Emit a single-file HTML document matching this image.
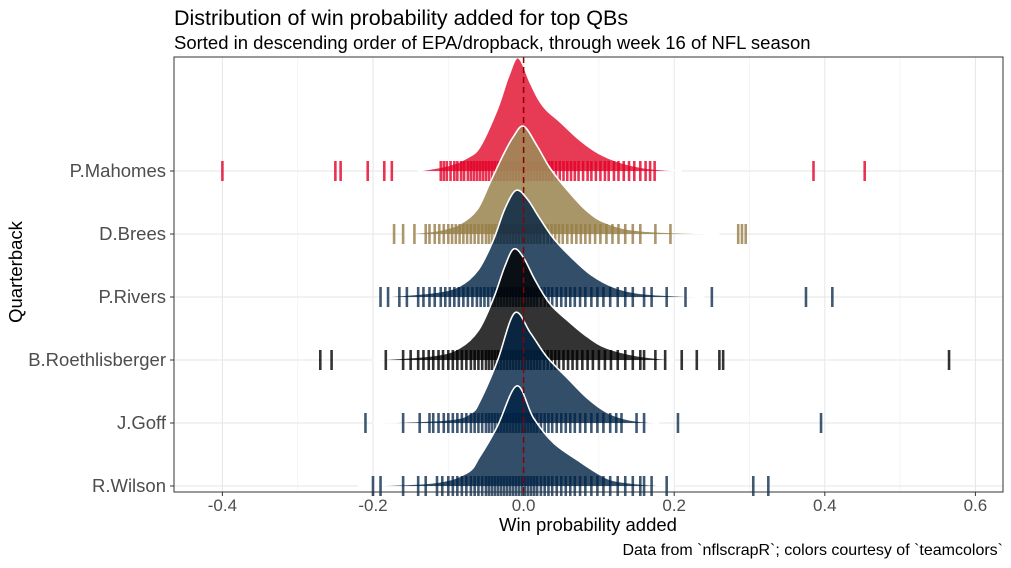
<!DOCTYPE html>
<html><head><meta charset="utf-8"><style>
body{margin:0;background:#fff;}
svg text{font-family:"Liberation Sans",sans-serif;}
</style></head><body>
<svg id="chart" width="1011" height="563" xmlns="http://www.w3.org/2000/svg">
<text x="174" y="25" font-size="21.5" fill="#000">Distribution of win probability added for top QBs</text>
<text x="174" y="49" font-size="18.5" fill="#000">Sorted in descending order of EPA/dropback, through week 16 of NFL season</text>
<rect x="174" y="57" width="829" height="435" fill="#fff"/>
<g id="grid"></g>
<g id="ridges"></g>
<line id="zero" stroke="#8B0000" stroke-width="1.5" stroke-dasharray="6,4"/>
<rect x="174" y="57" width="829" height="435" fill="none" stroke="#333" stroke-width="1"/>
<g id="axes"></g>
<text x="588" y="531" font-size="18.5" text-anchor="middle" fill="#000">Win probability added</text>
<text transform="translate(22,272) rotate(-90)" font-size="18.5" text-anchor="middle" fill="#000">Quarterback</text>
<text x="1003" y="555" font-size="16" text-anchor="end" fill="#000">Data from `nflscrapR`; colors courtesy of `teamcolors`</text>
</svg>
<script>
const qbs=["P.Mahomes","D.Brees","P.Rivers","B.Roethlisberger","J.Goff","R.Wilson"];
const fills=["rgba(227,24,55,0.85)","rgba(159,137,88,0.9)","rgba(0,34,68,0.8)","rgba(0,0,0,0.8)","rgba(0,34,68,0.8)","rgba(0,34,68,0.8)"];
const rugColors=["rgba(227,0,40,0.8)","rgba(150,125,70,0.8)","rgba(0,34,68,0.75)","rgba(0,0,0,0.8)","rgba(0,34,68,0.75)","rgba(0,34,68,0.75)"];
const xTicks=[-0.4,-0.2,0,0.2,0.4,0.6];
const xTickLabels=["-0.4","-0.2","0.0","0.2","0.4","0.6"];
const xMinor=[-0.3,-0.1,0.1,0.3,0.5];
const densX=[
[-0.14,-0.1,-0.075,-0.058,-0.035,-0.02,-0.007,0.009,0.02,0.031,0.048,0.075,0.10,0.128,0.164,0.21],
[-0.16,-0.115,-0.085,-0.062,-0.045,-0.027,-0.014,0,0.018,0.035,0.058,0.084,0.11,0.155,0.26],
[-0.19,-0.12,-0.085,-0.06,-0.04,-0.025,-0.01,0.005,0.02,0.04,0.065,0.09,0.12,0.16,0.24],
[-0.2,-0.12,-0.085,-0.06,-0.04,-0.025,-0.013,0.0,0.015,0.035,0.06,0.085,0.11,0.15,0.2],
[-0.2,-0.1,-0.07,-0.058,-0.035,-0.012,0.009,0.031,0.058,0.084,0.11,0.14,0.18],
[-0.22,-0.12,-0.075,-0.058,-0.035,-0.009,0.013,0.04,0.075,0.1,0.12,0.16,0.2]];
const densY=[
[0,0.05,0.12,0.22,0.56,0.86,1.03,0.8,0.65,0.55,0.45,0.28,0.16,0.08,0.025,0],
[0,0.03,0.09,0.22,0.46,0.72,0.88,0.98,0.8,0.6,0.4,0.21,0.1,0.03,0],
[0,0.04,0.1,0.25,0.52,0.8,0.97,0.89,0.73,0.53,0.35,0.2,0.09,0.03,0],
[0,0.04,0.11,0.27,0.56,0.85,1.01,0.93,0.73,0.51,0.35,0.21,0.11,0.04,0],
[0,0.03,0.09,0.2,0.56,1.0,0.82,0.6,0.41,0.23,0.1,0.03,0],
[0,0.03,0.12,0.27,0.54,0.91,0.62,0.39,0.22,0.11,0.05,0.015,0]];
const rugs=[
[-0.40,-0.25,-0.243,-0.207,-0.185,-0.175,-0.11,-0.106,-0.102,-0.097,-0.092,-0.088,-0.083,-0.079,-0.074,-0.07,-0.066,-0.062,-0.058,-0.054,-0.05,-0.046,-0.042,-0.038,-0.034,-0.03,-0.026,-0.022,-0.018,-0.014,-0.01,-0.006,-0.002,0.002,0.006,0.01,0.014,0.018,0.022,0.026,0.03,0.034,0.038,0.043,0.048,0.053,0.058,0.063,0.068,0.073,0.079,0.085,0.09,0.096,0.102,0.108,0.113,0.12,0.126,0.133,0.14,0.147,0.155,0.162,0.168,0.174,0.385,0.453],
[-0.172,-0.16,-0.145,-0.13,-0.125,-0.118,-0.112,-0.106,-0.1,-0.095,-0.09,-0.085,-0.08,-0.075,-0.07,-0.065,-0.06,-0.055,-0.05,-0.046,-0.042,-0.038,-0.034,-0.03,-0.026,-0.022,-0.018,-0.014,-0.01,-0.006,-0.002,0.002,0.006,0.01,0.014,0.018,0.022,0.027,0.032,0.037,0.042,0.047,0.052,0.058,0.064,0.07,0.076,0.082,0.088,0.095,0.102,0.11,0.118,0.126,0.135,0.145,0.155,0.175,0.195,0.285,0.29,0.295],
[-0.19,-0.18,-0.165,-0.155,-0.14,-0.133,-0.125,-0.118,-0.11,-0.104,-0.098,-0.092,-0.086,-0.08,-0.074,-0.068,-0.062,-0.057,-0.052,-0.047,-0.042,-0.038,-0.034,-0.03,-0.026,-0.022,-0.018,-0.014,-0.01,-0.006,-0.002,0.002,0.006,0.01,0.014,0.018,0.023,0.028,0.033,0.038,0.044,0.05,0.056,0.062,0.068,0.075,0.082,0.09,0.098,0.106,0.115,0.125,0.135,0.145,0.16,0.17,0.19,0.215,0.25,0.375,0.41],
[-0.27,-0.255,-0.183,-0.16,-0.15,-0.14,-0.133,-0.126,-0.12,-0.113,-0.107,-0.1,-0.094,-0.088,-0.082,-0.076,-0.07,-0.065,-0.06,-0.055,-0.05,-0.046,-0.042,-0.038,-0.034,-0.03,-0.026,-0.022,-0.018,-0.014,-0.01,-0.006,-0.002,0.002,0.006,0.01,0.014,0.018,0.022,0.027,0.032,0.037,0.042,0.047,0.053,0.059,0.065,0.071,0.078,0.085,0.092,0.1,0.108,0.116,0.125,0.135,0.145,0.155,0.16,0.175,0.188,0.21,0.23,0.26,0.265,0.565],
[-0.21,-0.16,-0.138,-0.125,-0.12,-0.113,-0.106,-0.1,-0.094,-0.088,-0.082,-0.076,-0.07,-0.065,-0.06,-0.055,-0.05,-0.046,-0.042,-0.038,-0.034,-0.03,-0.026,-0.022,-0.018,-0.014,-0.01,-0.006,-0.002,0.002,0.006,0.01,0.014,0.018,0.023,0.028,0.033,0.038,0.044,0.05,0.056,0.062,0.068,0.075,0.082,0.09,0.098,0.106,0.115,0.123,0.13,0.15,0.16,0.205,0.395],
[-0.2,-0.19,-0.16,-0.14,-0.13,-0.115,-0.108,-0.1,-0.094,-0.088,-0.082,-0.076,-0.07,-0.065,-0.06,-0.055,-0.05,-0.046,-0.042,-0.038,-0.034,-0.03,-0.026,-0.022,-0.018,-0.014,-0.01,-0.006,-0.002,0.002,0.006,0.01,0.014,0.018,0.023,0.028,0.033,0.038,0.044,0.05,0.056,0.062,0.068,0.075,0.082,0.09,0.098,0.106,0.115,0.125,0.135,0.145,0.155,0.16,0.17,0.19,0.305,0.325]];

const NS="http://www.w3.org/2000/svg";
const X0=174,X1=1003,Y0=57,Y1=492;
function xs(v){return 523.6+v*753;}
function ys(i){return 171+i*63;}
const HS=110;
function mk(tag,attrs,parent){const e=document.createElementNS(NS,tag);for(const k in attrs)e.setAttribute(k,attrs[k]);parent.appendChild(e);return e;}
const grid=document.getElementById('grid'),axes=document.getElementById('axes'),ridges=document.getElementById('ridges');
xMinor.forEach(v=>{const l=mk('line',{x1:xs(v),x2:xs(v),y1:Y0,y2:Y1,stroke:'#f2f2f2','stroke-width':0.8},grid);

});
xTicks.forEach((v,i)=>{const l=mk('line',{x1:xs(v),x2:xs(v),y1:Y0,y2:Y1,stroke:'#e6e6e6','stroke-width':1},grid);


const t=mk('line',{x1:xs(v),x2:xs(v),y1:Y1,y2:Y1+4,stroke:'#333'},axes);


const tx=mk('text',{x:xs(v),y:511,'font-size':17,'text-anchor':'middle',fill:'#4d4d4d'},axes);tx.textContent=xTickLabels[i];

});
qbs.forEach((q,i)=>{const l=mk('line',{x1:X0,x2:X1,y1:ys(i),y2:ys(i),stroke:'#e6e6e6','stroke-width':1},grid);


const t=mk('line',{x1:X0-4,x2:X0,y1:ys(i),y2:ys(i),stroke:'#333'},axes);


const tx=mk('text',{x:166,y:ys(i)+6,'font-size':18.5,'text-anchor':'end',fill:'#4d4d4d'},axes);tx.textContent=q;

});
function smooth(pts){let d='M'+pts[0][0]+','+pts[0][1];
for(let i=0;i<pts.length-1;i++){const p0=pts[Math.max(0,i-1)],p1=pts[i],p2=pts[i+1],p3=pts[Math.min(pts.length-1,i+2)];
const c1=[p1[0]+(p2[0]-p0[0])/6,p1[1]+(p2[1]-p0[1])/6],c2=[p2[0]-(p3[0]-p1[0])/6,p2[1]-(p3[1]-p1[1])/6];
d+=' C'+c1[0]+','+c1[1]+' '+c2[0]+','+c2[1]+' '+p2[0]+','+p2[1];}return d;}
qbs.forEach((q,i)=>{const g=mk('g',{},ridges);


const b=ys(i);const pts=densX[i].map((x,j)=>[xs(x),b-densY[i][j]*HS]);
const top=smooth(pts);
const f=mk('path',{d:top+' L'+pts[pts.length-1][0]+','+b+' L'+pts[0][0]+','+b+' Z',fill:fills[i],stroke:'none'},g);


const o=mk('path',{d:top,fill:'none',stroke:'#fff','stroke-width':1.6},g);


rugs[i].forEach(v=>{const r=mk('line',{x1:xs(v),x2:xs(v),y1:b-10,y2:b+10,stroke:rugColors[i],'stroke-width':2.6},g);

});});
const z=document.getElementById('zero');z.setAttribute('x1',xs(0));z.setAttribute('x2',xs(0));z.setAttribute('y1',Y0);z.setAttribute('y2',Y1);
</script>
</body></html>
